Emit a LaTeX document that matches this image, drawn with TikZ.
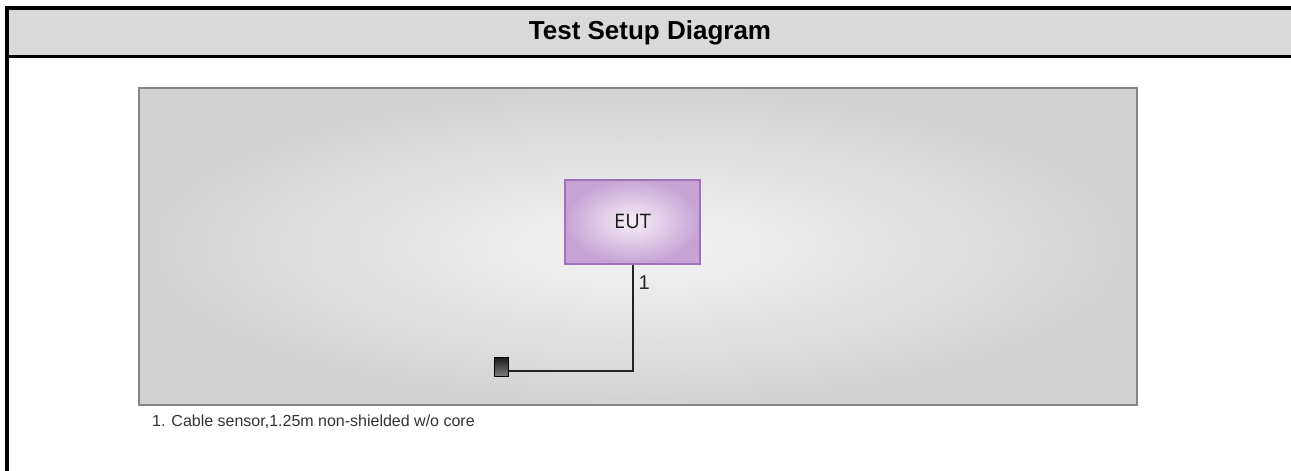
\documentclass[tikz,border=0pt]{standalone}
\usepackage{fontspec}
\setmainfont{Liberation Sans}
\newfontfamily\eutfont{Open Sans}
\definecolor{hdrgray}{HTML}{D9D9D9}
\definecolor{panelborder}{HTML}{858585}
\definecolor{panelin}{HTML}{F4F4F4}
\definecolor{panelout}{HTML}{D2D2D2}
\definecolor{eutborder}{HTML}{A070B8}
\definecolor{eutin}{HTML}{F6EFF8}
\definecolor{eutout}{HTML}{C7A3D5}
\definecolor{wire}{HTML}{222222}
\definecolor{captext}{HTML}{333333}
\tikzset{
  framebar/.style={fill=black, draw=none},
  panelbox/.style={draw=panelborder, line width=2.5pt, inner color=panelin, outer color=panelout},
  eutbox/.style={draw=eutborder, line width=2pt, inner color=eutin, outer color=eutout,
    minimum width=135pt, minimum height=84pt, inner sep=0pt, font=\eutfont\fontsize{20}{23}\selectfont, text=black!90},
  connbox/.style={draw=black, line width=1pt, top color=black!90, bottom color=black!50,
    minimum width=14pt, minimum height=19pt, inner sep=0pt},
  wireline/.style={draw=wire, line width=2pt},
  caption/.style={font=\fontsize{16}{19}\selectfont, text=captext, anchor=west, inner sep=0pt},
  portlabel/.style={font=\fontsize{20}{23}\selectfont, text=black!85, anchor=west, inner sep=0pt}
}
\begin{document}
\begin{tikzpicture}[x=1pt,y=-1pt]
\useasboundingbox (0,0) rectangle (1291,471);
\fill[white] (0,0) rectangle (1291,471);
% header band
\fill[hdrgray] (9,10) rectangle (1291,55);
\fill[framebar] (5,6) rectangle (1291,10);
\fill[framebar] (5,55) rectangle (1291,58);
\fill[framebar] (5,6) rectangle (9,471);
\node[font=\bfseries\fontsize{26}{30}\selectfont, inner sep=0pt] (title) at (650,32.5) {Test Setup Diagram};
% panel
\shade[panelbox] (139,88) rectangle (1137,405);
% EUT
\node[eutbox] (eut) at (632.5,221.5) {EUT};
% connector
\node[connbox] (conn) at (501.5,367) {};
\coordinate (bend) at (632.5,371);
\draw[wireline] (eut.south) -- (bend) -- (conn.east |- bend);
\node[portlabel] (p1) at (638.5,283) {1};
% caption
\node[caption] (cap) at (152,422) {1. Cable sensor,1.25m non-shielded w/o core};
\end{tikzpicture}
\end{document}
